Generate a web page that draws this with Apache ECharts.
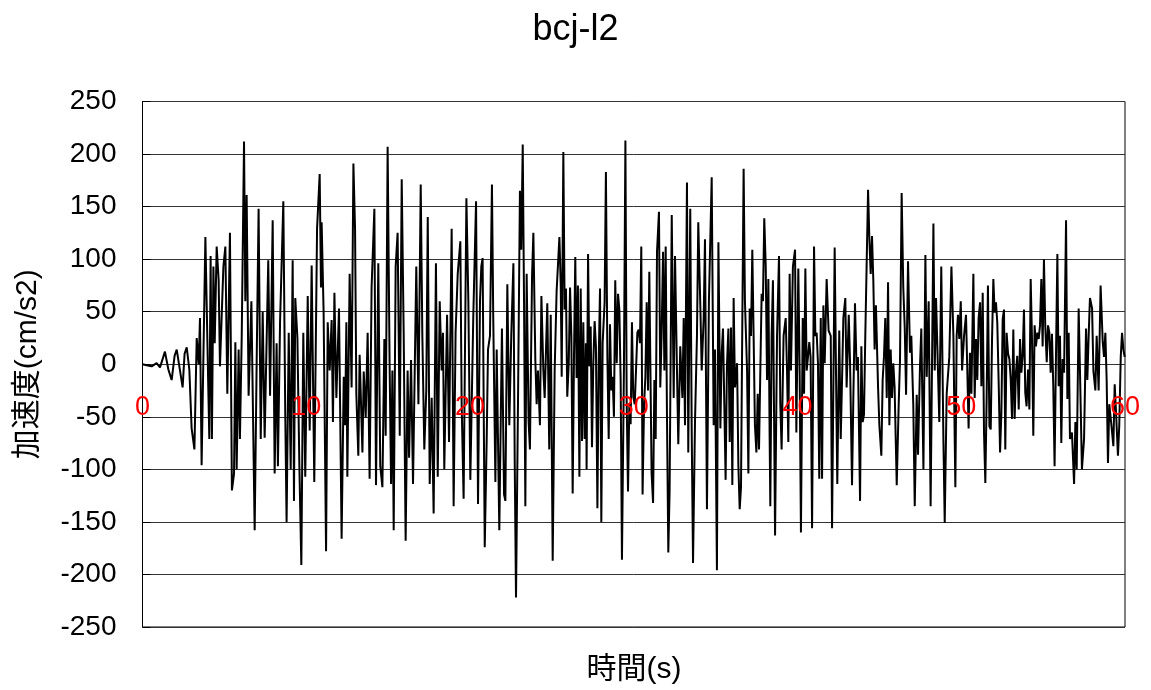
<!DOCTYPE html>
<html>
<head>
<meta charset="utf-8">
<script src="https://cdn.jsdelivr.net/npm/echarts@6/dist/echarts.min.js"></script>
<style>
  html, body { margin: 0; padding: 0; background: #fff; }
  #chart { width: 1151px; height: 690px; }
</style>
</head>
<body>
<div id="chart"></div>
<script>
// Acceleration record bcj-l2, as [time (s), acceleration (cm/s2)] turning points, one array per 10 s
const accel0to10 = [
  [0.00, 0], [0.25, -1], [0.56, -2], [0.86, 1], [1.07, -3], [1.37, 12], [1.58, -5], [1.78, -15],
  [1.96, 8], [2.09, 14], [2.25, -2], [2.45, -22], [2.57, 10], [2.70, 16], [2.86, -5], [3.00, -61],
  [3.17, -81], [3.31, 25], [3.43, 0], [3.51, 44], [3.61, -96], [3.84, 121], [4.02, -24], [4.08, -71],
  [4.16, 103], [4.24, -71], [4.33, 93], [4.41, 20], [4.53, 112], [4.65, 80], [4.73, -2], [4.94, 93],
  [5.06, 112], [5.18, -28], [5.34, 125], [5.46, -120], [5.59, -104], [5.67, 21], [5.75, -100], [5.87, 14],
  [5.95, -71], [6.06, 27], [6.20, 212], [6.28, 60], [6.36, 161], [6.48, -30], [6.65, 60], [6.85, -158],
  [6.97, 0], [7.09, 148], [7.22, -71], [7.34, 50], [7.46, -70], [7.68, 99], [7.79, -30], [7.95, 137],
  [8.07, -104], [8.19, 20], [8.27, -97], [8.40, 40], [8.60, 155], [8.72, -50], [8.80, -150], [8.93, 30],
  [9.05, -100], [9.17, 99], [9.25, -130], [9.33, 63], [9.46, 25], [9.58, -97], [9.70, -191], [9.82, 30],
  [9.94, -107]
];
const accel10to20 = [
  [10.09, 65], [10.21, -63], [10.33, 94], [10.49, -112], [10.66, 129], [10.82, 181], [10.90, 73], [10.94, 135],
  [11.06, 50], [11.21, -178], [11.31, 40], [11.43, -6], [11.55, 42], [11.63, -55], [11.72, 68], [11.84, -32],
  [12.00, 53], [12.16, -166], [12.29, -12], [12.37, -58], [12.45, 40], [12.51, -107], [12.65, 86], [12.77, -22],
  [12.88, 191], [12.98, 129], [13.06, -29], [13.18, -87], [13.26, 9], [13.43, -84], [13.51, -7], [13.63, -51],
  [13.75, 30], [13.87, -109], [13.99, 73], [14.16, 148], [14.26, -115], [14.40, 96], [14.52, -97], [14.65, -117],
  [14.77, 24], [14.85, -68], [14.97, 207], [15.09, 1], [15.18, -114], [15.26, -6], [15.34, -158], [15.46, 93],
  [15.58, 125], [15.71, -68], [15.83, 176], [15.95, 30], [16.07, -168], [16.19, -6], [16.28, -89], [16.40, 4],
  [16.52, -114], [16.72, 93], [16.85, -38], [16.99, 171], [17.09, 27], [17.21, -81], [17.33, -25], [17.42, 140],
  [17.54, -114], [17.66, -32], [17.78, -142], [17.92, 96], [18.03, -107], [18.15, 60], [18.27, -6], [18.35, 30],
  [18.43, -100], [18.60, 47], [18.72, -74], [18.88, 129], [19.00, -135], [19.12, 30], [19.25, 86], [19.41, 117],
  [19.49, -38], [19.61, -128], [19.78, 158], [19.90, 60], [20.02, -110]
];
const accel20to30 = [
  [20.20, 45], [20.37, 155], [20.49, -133], [20.61, 60], [20.69, 93], [20.77, 101], [20.90, -174], [21.02, -71],
  [21.10, 14], [21.22, 27], [21.34, 171], [21.42, 44], [21.55, -112], [21.63, 14], [21.79, -158], [21.95, 34],
  [22.08, -124], [22.16, -130], [22.28, 76], [22.40, -58], [22.52, 27], [22.65, 96], [22.73, -91], [22.81, -222],
  [22.93, -38], [23.05, 165], [23.13, 109], [23.22, 209], [23.30, 60], [23.38, -135], [23.46, 86], [23.58, -55],
  [23.66, -81], [23.79, 85], [23.87, 125], [23.99, 4], [24.07, -38], [24.15, -6], [24.27, -58], [24.36, 65],
  [24.48, -6], [24.56, -32], [24.72, 58], [24.84, -81], [24.93, 47], [25.05, -187], [25.17, -6], [25.29, 70],
  [25.46, 121], [25.54, 76], [25.60, -12], [25.70, 202], [25.78, 52], [25.86, 72], [25.94, -31], [26.03, 1],
  [26.11, 73], [26.19, 27], [26.27, -123], [26.35, 7], [26.43, 102], [26.51, -13], [26.59, 75], [26.68, -107],
  [26.76, 72], [26.84, -73], [26.92, 40], [27.00, -71], [27.08, 20], [27.12, -100], [27.21, 105], [27.29, -2],
  [27.37, 36], [27.45, -79], [27.53, 1], [27.61, 41], [27.69, 17], [27.78, -137], [27.86, 4], [27.94, 72],
  [28.02, -150], [28.10, 20], [28.22, 59], [28.30, 183], [28.39, 7], [28.47, -71], [28.55, 38], [28.63, -25],
  [28.71, -12], [28.79, -50], [28.87, 80], [28.96, 1], [29.04, 67], [29.12, 52], [29.20, -15], [29.28, -186],
  [29.40, -5], [29.49, 213], [29.57, -38], [29.65, -121], [29.73, -38], [29.81, -57], [29.89, 40], [29.97, -31]
];
const accel30to40 = [
  [30.06, -38], [30.14, -5], [30.22, 30], [30.30, 33], [30.38, 20], [30.46, 112], [30.54, -124], [30.63, -38],
  [30.71, -12], [30.79, 59], [30.87, -25], [30.95, 88], [31.09, -104], [31.18, -132], [31.26, -15], [31.34, -71],
  [31.42, 107], [31.54, 145], [31.62, -22], [31.70, 27], [31.79, 107], [31.87, -6], [31.95, 112], [32.03, -51],
  [32.11, -179], [32.19, -120], [32.32, 142], [32.44, -32], [32.52, 103], [32.64, -6], [32.72, -76], [32.84, 17],
  [32.97, -32], [33.05, 44], [33.13, -58], [33.25, 173], [33.33, -84], [33.45, 148], [33.54, -65], [33.62, -189],
  [33.74, -55], [33.86, 27], [33.94, 135], [34.07, 53], [34.15, -6], [34.27, 44], [34.35, 119], [34.47, -138],
  [34.59, 60], [34.76, 178], [34.88, -58], [34.96, 14], [35.08, -196], [35.17, 116], [35.29, -61], [35.37, 11],
  [35.45, 34], [35.53, -38], [35.61, -110], [35.69, -2], [35.78, 34], [35.86, -74], [35.94, 35], [36.02, -115],
  [36.10, 63], [36.18, -22], [36.31, 1], [36.39, -97], [36.47, -138], [36.55, -117], [36.63, 40], [36.71, 186],
  [36.79, 60], [36.92, -6], [37.00, -104], [37.08, 53], [37.16, 27], [37.24, 109], [37.32, 27], [37.40, -58],
  [37.49, -84], [37.57, -28], [37.65, -81], [37.73, -6], [37.81, 67], [37.89, 60], [37.97, 139], [38.06, 93],
  [38.14, -15], [38.22, 81], [38.30, -71], [38.34, -135], [38.42, 27], [38.50, 80], [38.63, -163], [38.75, 27],
  [38.87, 103], [38.95, -38], [39.03, -81], [39.15, 27], [39.28, 44], [39.36, -6], [39.44, -74], [39.52, 86],
  [39.60, -6], [39.72, 93], [39.85, 109], [39.93, -65]
];
const accel40to50 = [
  [40.05, 91], [40.13, -6], [40.21, -160], [40.32, 44], [40.40, -28], [40.48, 91], [40.56, -6], [40.64, 7],
  [40.72, 21], [40.80, 7], [40.89, -156], [41.01, 112], [41.09, 27], [41.17, 30], [41.25, 1], [41.33, -109],
  [41.42, 44], [41.50, -109], [41.58, 56], [41.66, 1], [41.78, 81], [41.90, 32], [42.03, 27], [42.11, -156],
  [42.27, 111], [42.35, -6], [42.43, -114], [42.55, 32], [42.64, -71], [42.72, -15], [42.80, 44], [42.92, 63],
  [43.00, -22], [43.13, 47], [43.21, 1], [43.33, -115], [43.41, -32], [43.51, 58], [43.61, -6], [43.69, 7],
  [43.82, -130], [43.90, 17], [43.98, -55], [44.06, -48], [44.14, 27], [44.22, 93], [44.31, 166], [44.39, 119],
  [44.47, 86], [44.55, 122], [44.63, 80], [44.71, 14], [44.79, 56], [44.92, -22], [45.00, -58], [45.12, -87],
  [45.20, -15], [45.28, 7], [45.36, 44], [45.45, -32], [45.53, 78], [45.61, -58], [45.69, 14], [45.77, -32],
  [45.85, 1], [45.93, -22], [46.06, -115], [46.18, -38], [46.26, 4], [46.36, 163], [46.46, 73], [46.55, 34],
  [46.63, -29], [46.75, 98], [46.87, 11], [46.95, 27], [47.07, -38], [47.16, -135], [47.28, -29], [47.36, -86],
  [47.48, -2], [47.56, 34], [47.69, -100], [47.81, 104], [47.89, -12], [48.01, 60], [48.13, -135], [48.30, 134],
  [48.38, -6], [48.46, 63], [48.54, 17], [48.66, -55], [48.78, 93], [48.91, -71], [48.99, -151], [49.11, -28],
  [49.27, 7], [49.40, 93], [49.52, 27], [49.64, -117], [49.72, 27], [49.80, 47], [49.88, 24], [49.97, 60]
];
const accel50to60 = [
  [50.05, -6], [50.17, 27], [50.29, 47], [50.37, -6], [50.45, -61], [50.53, 11], [50.62, -28], [50.74, 86],
  [50.82, -32], [50.90, 24], [50.98, -15], [51.06, 44], [51.15, 59], [51.23, -21], [51.31, 68], [51.39, -65],
  [51.47, -113], [51.55, -33], [51.63, 75], [51.72, -59], [51.80, -62], [51.88, 24], [51.96, 81], [52.04, 49],
  [52.12, 59], [52.20, 40], [52.29, -21], [52.37, -84], [52.45, -46], [52.53, 43], [52.61, 52], [52.69, -81],
  [52.77, 30], [52.86, 10], [52.94, 5], [53.02, -14], [53.10, -52], [53.18, 33], [53.26, -52], [53.34, -8],
  [53.42, 8], [53.51, -43], [53.59, 24], [53.67, -8], [53.75, 8], [53.83, 52], [53.91, -27], [53.99, -40],
  [54.08, -5], [54.16, -43], [54.24, 81], [54.32, 24], [54.40, -68], [54.48, 37], [54.56, 17], [54.65, 30],
  [54.73, 24], [54.81, 37], [54.89, 81], [54.97, 17], [55.05, 100], [55.13, 37], [55.22, 2], [55.30, 37],
  [55.38, 30], [55.46, -8], [55.54, 29], [55.62, -21], [55.70, -97], [55.79, 14], [55.87, 105], [55.95, -21],
  [56.03, 27], [56.11, -75], [56.19, 5], [56.28, -8], [56.40, 137], [56.48, -33], [56.56, 30], [56.64, -71],
  [56.76, -65], [56.89, -114], [56.97, -55], [57.05, -100], [57.17, 53], [57.25, -6], [57.37, -100], [57.50, -71],
  [57.62, 34], [57.70, -15], [57.78, 27], [57.86, 63], [57.99, 53], [58.07, -6], [58.19, -25], [58.27, 27],
  [58.39, -25], [58.51, 75], [58.64, 21], [58.72, 7], [58.80, 30], [58.88, -15], [58.96, -94], [59.04, -38],
  [59.17, -58], [59.29, -78], [59.37, -19], [59.45, -45], [59.57, -87], [59.65, -58], [59.74, 7], [59.82, 30],
  [59.90, 14], [59.98, 7]
];

// Axis ranges and tick steps
const xRange = [0, 60];
const xStep = 10;
const yRange = [-250, 250];
const yStep = 50;

const fontStack = "'Liberation Sans', Arial, 'Noto Sans CJK JP', sans-serif";

const record = [].concat(accel0to10, accel10to20, accel20to30, accel30to40, accel40to50, accel50to60);

const gridTop = 101.5;
const gridBottom = 63;
const chartHeight = 690;
const plotHeight = chartHeight - gridTop - gridBottom;
// Time labels sit along the zero-acceleration line (mid-height of the plot)
const zeroLineOffset = -plotHeight * (0 - yRange[0]) / (yRange[1] - yRange[0]);

const chart = echarts.init(document.getElementById('chart'), null, { renderer: 'canvas' });

chart.setOption({
  animation: false,
  backgroundColor: '#fff',
  title: {
    text: 'bcj-l2',
    left: 'center',
    top: 7,
    textStyle: { fontFamily: fontStack, fontSize: 36, fontWeight: 'normal', color: '#000' }
  },
  grid: {
    left: 142.5, right: 26, top: gridTop, bottom: gridBottom,
    show: true, borderColor: '#000', borderWidth: 1, backgroundColor: '#fff'
  },
  xAxis: {
    type: 'value',
    min: xRange[0], max: xRange[1], interval: xStep,
    position: 'bottom',
    offset: zeroLineOffset,
    z: 10,
    axisLine: { show: false, onZero: false },
    axisTick: { show: false },
    splitLine: { show: false },
    axisLabel: { color: '#ff0000', fontSize: 27, fontFamily: fontStack, margin: 30 }
  },
  yAxis: {
    type: 'value',
    min: yRange[0], max: yRange[1], interval: yStep,
    name: '加速度(cm/s2)',
    nameLocation: 'middle',
    nameGap: 100,
    nameRotate: 90,
    nameTextStyle: { fontFamily: fontStack, fontSize: 30, color: '#000' },
    axisLine: { show: true, onZero: false, lineStyle: { color: '#000', width: 1 } },
    axisTick: { show: true, inside: true, length: 8, lineStyle: { color: '#000' } },
    axisLabel: { color: '#000', fontSize: 28, fontFamily: fontStack, margin: 26 },
    splitLine: { show: true, lineStyle: { color: '#333', width: 1 } }
  },
  graphic: [{
    type: 'text',
    x: 634, y: 670,
    style: {
      text: '時間(s)',
      align: 'center', verticalAlign: 'middle',
      fontFamily: fontStack, fontSize: 30, fill: '#000'
    }
  }],
  series: [{
    type: 'line',
    data: record,
    showSymbol: false,
    symbol: 'none',
    lineStyle: { color: '#000', width: 2 },
    z: 3
  }]
});
</script>
</body>
</html>
